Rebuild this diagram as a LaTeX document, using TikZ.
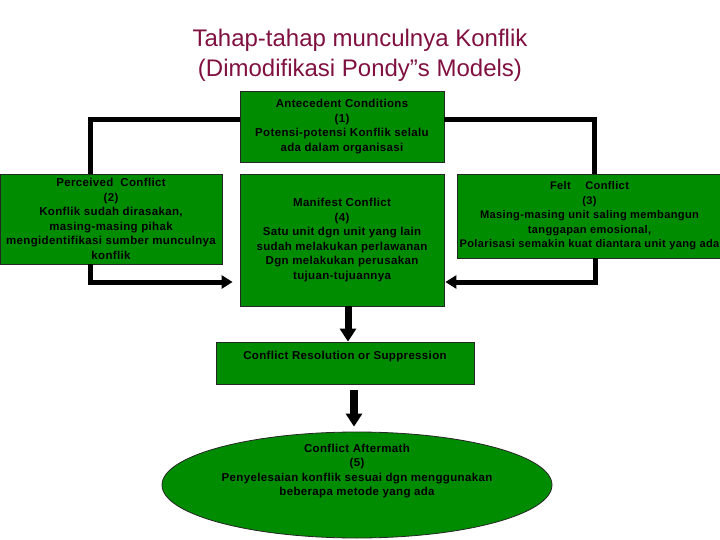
\documentclass[tikz,border=0pt]{standalone}
\usepackage{fontspec}
\setmainfont{Liberation Sans}
\newfontfamily\boxfont[LetterSpace=3]{Liberation Sans}
\usetikzlibrary{arrows.meta,shapes.geometric}
\definecolor{boxgreen}{RGB}{0,140,0}
\definecolor{titlered}{RGB}{128,16,64}
\begin{document}
\begin{tikzpicture}[x=1pt,y=-1pt,
  boxtext/.style={font=\boxfont\bfseries\fontsize{11.5}{14.5}\selectfont, align=center},
  box/.style={boxtext, draw=black!85, line width=0.8pt, fill=boxgreen, inner sep=0pt},
  conn/.style={line width=5pt},
  tip/.style={-{Triangle[width=13pt,length=11pt]}},
  bigtip/.style={-{Triangle[width=16pt,length=13pt]}},
  titletext/.style={font=\fontsize{24}{30}\selectfont, text=titlered, align=center}
]
\useasboundingbox (0,0) rectangle (720,540);
\node[titletext] (title) at (360,55) {Tahap-tahap munculnya Konflik\\(Dimodifikasi Pondy”s Models)};

\node[box, minimum width=204pt, minimum height=71pt] (ant) at (342,126.5)
  {Antecedent Conditions\\(1)\\Potensi-potensi Konflik selalu\\ada dalam organisasi};
\node[box, minimum width=222pt, minimum height=90pt] (per) at (111,219)
  {Perceived\ \ Conflict\\(2)\\Konflik sudah dirasakan,\\masing-masing pihak\\mengidentifikasi sumber munculnya\\konflik};
\node[box, minimum width=204pt, minimum height=132pt] (man) at (342,240)
  {Manifest Conflict\\(4)\\Satu unit dgn unit yang lain\\sudah melakukan perlawanan\\Dgn melakukan perusakan\\tujuan-tujuannya};
\node[box, font=\boxfont\bfseries\fontsize{11.1}{14.5}\selectfont, minimum width=265pt, minimum height=84pt] (felt) at (589.5,216)
  {Felt\quad\ Conflict\\(3)\\Masing-masing unit saling membangun\\tanggapan emosional,\\Polarisasi semakin kuat diantara unit yang ada};
\node[box, minimum width=258pt, minimum height=42pt, text height=8pt, text depth=16pt] (res) at (345,363)
  {Conflict Resolution or Suppression};
\node[ellipse, draw=black!85, line width=0.8pt, fill=boxgreen, minimum width=390pt, minimum height=106pt, inner sep=0pt] (aft) at (357,485) {};
\node[boxtext] (afttext) at (357,471)
  {Conflict Aftermath\\(5)\\Penyelesaian konflik sesuai dgn menggunakan\\beberapa metode yang ada};

\draw[conn] (ant.west |- 0,120) -| (per.north -| 90,0);
\draw[conn] (ant.east |- 0,120) -| (felt.north -| 594,0);
\draw[conn,tip,shorten >=7pt] (per.south -| 90,0) |- (man.west |- 0,282);
\draw[conn,tip,shorten >=1pt] (felt.south -| 595,0) |- (man.east |- 0,282);
\draw[line width=7pt,bigtip] (man.south -| 348,0) -- (res.north -| 348,0);
\draw[line width=8pt,bigtip,shorten <=6pt,shorten >=5pt] (res.south -| 354,0) -- (aft.north -| 354,0);
\end{tikzpicture}
\end{document}
